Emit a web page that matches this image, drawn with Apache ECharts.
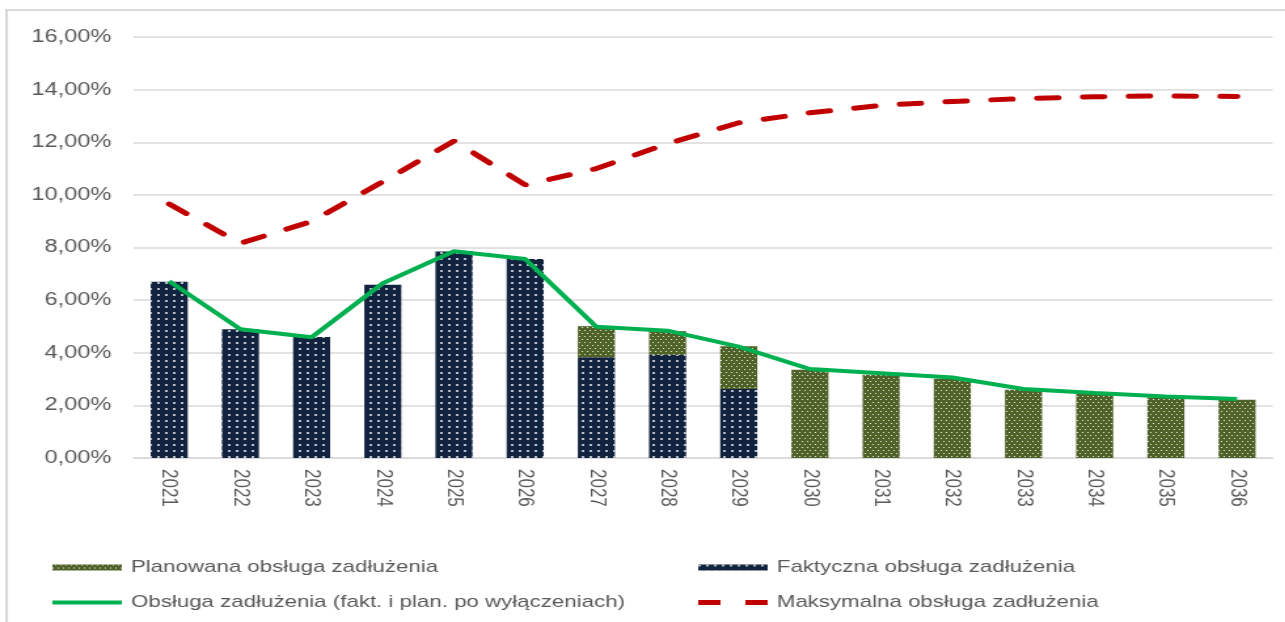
<!DOCTYPE html>
<html>
<head>
<meta charset="utf-8">
<script src="https://cdn.jsdelivr.net/npm/echarts@6/dist/echarts.min.js"></script>
<style>
html,body{margin:0;padding:0;background:#fff;overflow:hidden;width:1285px;height:622px;}
#wrap{position:absolute;left:0;top:0;width:981px;height:622px;transform:scaleX(1.31);transform-origin:0 0;}
</style>
</head>
<body>
<div id="wrap"></div>
<script>
const years = ['2021','2022','2023','2024','2025','2026','2027','2028','2029','2030','2031','2032','2033','2034','2035','2036'];
const faktyczna = [6.70, 4.89, 4.60, 6.58, 7.85, 7.56, 3.83, 3.92, 2.62, null, null, null, null, null, null, null];
const planowana = [null, null, null, null, null, null, 1.18, 0.90, 1.63, 3.35, 3.16, 3.01, 2.59, 2.43, 2.30, 2.21];
const obsluga = [6.72, 4.89, 4.59, 6.64, 7.86, 7.56, 4.99, 4.84, 4.23, 3.38, 3.22, 3.06, 2.62, 2.47, 2.34, 2.24];
const maksymalna = [9.65, 8.16, 8.99, 10.50, 12.05, 10.38, 11.00, 11.95, 12.74, 13.12, 13.40, 13.55, 13.66, 13.73, 13.76, 13.74];
const yTicks = {min: 0, max: 16, interval: 2};

const names = {
  plan: 'Planowana obsługa zadłużenia',
  fakt: 'Faktyczna obsługa zadłużenia',
  obs: 'Obsługa zadłużenia (fakt. i plan. po wyłączeniach)',
  max: 'Maksymalna obsługa zadłużenia'
};
const FONT = '"Liberation Sans", Arial, sans-serif';
const TXT = '#595959';

const chart = echarts.init(document.getElementById('wrap'), null, {renderer: 'canvas'});
function legendAt(name, left, top, iconH, icon, color) {
  const l = {
    data: [{name: name, icon: icon}], left: left, top: top, padding: 0,
    itemWidth: 53, itemHeight: iconH,
    textStyle: {color: TXT, fontSize: 17, fontFamily: FONT, padding: [0, 0, 0, 2]},
    selectedMode: false
  };
  if (color) l.itemStyle = {color: color, borderWidth: 0};
  return l;
}
const option = {
  animation: false,
  backgroundColor: '#fff',
  graphic: [{
    type: 'rect', shape: {x: 5, y: 10, width: 2000, height: 1000},
    style: {fill: 'none', stroke: '#d9d9d9', lineWidth: 2}, silent: true
  }],
  grid: {left: 102, right: 9.5, top: 37, bottom: 164},
  legend: [
    legendAt(names.plan, 40, 559, 6, 'rect'),
    legendAt(names.fakt, 533, 559, 6, 'rect'),
    legendAt(names.obs, 40, 594, 4, 'rect', '#00b050'),
    legendAt(names.max, 533, 594, 5, 'path://M0,0h17v5h-17z M36,0h17v5h-17z', '#c00000')
  ],
  xAxis: {
    type: 'category', data: years,
    axisLine: {lineStyle: {color: '#d9d9d9', width: 1.5}},
    axisTick: {show: false},
    axisLabel: {rotate: -90, color: TXT, fontSize: 17, fontFamily: FONT, margin: 11}
  },
  yAxis: {
    type: 'value', min: yTicks.min, max: yTicks.max, interval: yTicks.interval,
    axisLine: {show: false}, axisTick: {show: false},
    splitLine: {lineStyle: {color: '#d9d9d9', width: 1.5}},
    axisLabel: {color: TXT, fontSize: 18, fontFamily: FONT, margin: 17,
      formatter: v => v.toFixed(2).replace('.', ',') + '%'}
  },
  series: [
    {
      name: names.fakt, type: 'bar', stack: 's', data: faktyczna, barWidth: '52%',
      itemStyle: {color: '#12233f',
        decal: {symbol: 'rect', symbolSize: 1, color: 'rgba(255,255,255,0.7)',
          dashArrayX: [2, 4], dashArrayY: [2, 4]}}
    },
    {
      name: names.plan, type: 'bar', stack: 's', data: planowana, barWidth: '52%',
      itemStyle: {color: '#4f6228',
        decal: {symbol: 'rect', symbolSize: 1, color: 'rgba(255,255,255,0.85)',
          dashArrayX: [[1, 3], [0, 2, 1, 1]], dashArrayY: [1, 2]}}
    },
    {
      name: names.obs, type: 'line', data: obsluga, symbol: 'none', z: 5,
      lineStyle: {color: '#00b050', width: 4}
    },
    {
      name: names.max, type: 'line', data: maksymalna, symbol: 'none', z: 6,
      lineStyle: {color: '#c00000', width: 5, type: [16, 19], cap: 'round'}
    }
  ]
};
chart.setOption(option);
</script>
</body>
</html>
